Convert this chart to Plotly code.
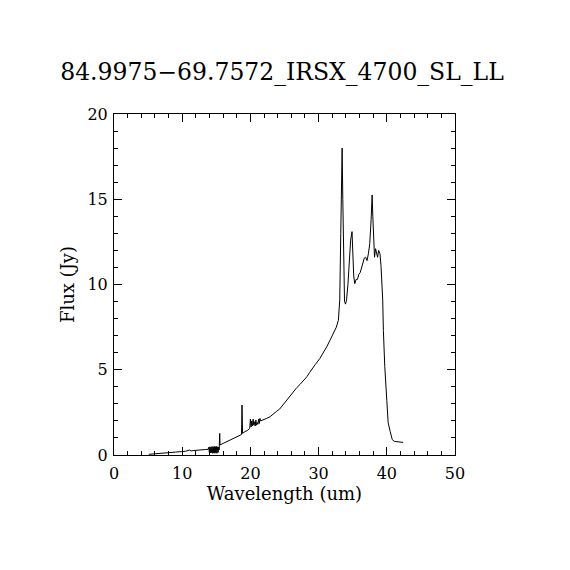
import plotly.graph_objects as go

# Spectrum
wavelength = [
    5.1, 6.0, 7.2, 8.0, 9.0, 9.9, 10.5, 11.1, 11.3, 11.6, 12.0, 12.5, 12.9, 13.4, 13.8,
    13.9, 13.98, 14.06, 14.14, 14.22, 14.3, 14.38, 14.46, 14.54, 14.62, 14.7, 14.78,
    14.86, 14.94, 15.02, 15.1, 15.18, 15.26, 15.34, 15.42,
    15.5, 15.55, 16.0, 16.5, 17.0, 17.5, 18.0, 18.5, 18.7, 18.77, 18.85, 19.2, 19.6, 19.9,
    20.0, 20.1, 20.2, 20.3, 20.4, 20.5, 20.6, 20.7, 20.8, 20.9, 21.0, 21.1, 21.2, 21.3, 21.4, 21.5,
    21.9, 22.4, 22.9, 23.4, 23.8, 24.3, 24.8, 25.3, 25.8, 26.3, 26.8, 27.3, 27.8, 28.3,
    28.7, 29.0, 29.5, 30.2, 30.7, 31.2, 31.7, 32.2, 32.6, 32.9,
    33.1, 33.25, 33.35, 33.45, 33.55, 33.65, 33.8, 33.95, 34.1, 34.3, 34.5, 34.7, 34.9,
    35.0, 35.15, 35.3, 35.5, 35.7, 35.9, 36.1, 36.3, 36.5, 36.7, 36.9, 37.1, 37.3, 37.5,
    37.7, 37.85, 37.95, 38.1, 38.2, 38.35, 38.5, 38.65, 38.8, 39.0, 39.15, 39.3, 39.4,
    39.5, 39.7, 40.0, 40.2, 40.5, 40.8, 41.1, 41.4, 41.9, 42.4,
]
flux = [
    0.04, 0.08, 0.13, 0.15, 0.17, 0.2, 0.22, 0.29, 0.24, 0.26, 0.28, 0.3, 0.33, 0.32, 0.33,
    0.45, 0.15, 0.48, 0.12, 0.47, 0.14, 0.5, 0.1, 0.48, 0.12, 0.5, 0.1, 0.49, 0.12,
    0.5, 0.1, 0.48, 0.15, 0.47, 0.3,
    1.27, 0.59, 0.68, 0.78, 0.88, 0.95, 1.04, 1.17, 1.2, 2.93, 1.27, 1.37, 1.45, 1.56,
    2.1, 1.65, 2.0, 1.7, 2.1, 1.75, 1.95, 1.7, 2.05, 1.75, 1.9, 1.8, 2.1, 1.85, 2.15, 2.0,
    2.05, 2.15, 2.25, 2.45, 2.55, 2.7, 2.95, 3.2, 3.5, 3.72, 3.95, 4.15, 4.35, 4.6,
    4.85, 5.0, 5.3, 5.67, 6.0, 6.35, 6.75, 7.14, 7.5, 7.9,
    9.1, 13.0, 15.0, 18.0, 15.0, 12.0, 9.0, 8.85, 9.1, 10.0, 11.5, 12.6, 13.1,
    12.0, 10.5, 10.05, 10.3, 10.3, 10.6, 10.7, 11.0, 11.4, 11.55, 11.6, 11.4, 11.8, 12.4,
    13.8, 15.25, 14.0, 12.5, 11.6, 12.1, 11.9, 11.6, 12.0, 11.8, 11.1, 10.0, 9.1,
    7.3, 5.2, 3.2, 1.9, 1.37, 0.9, 0.8, 0.78, 0.76, 0.74,
]

FONT = "DejaVu Serif"

fig = go.Figure(go.Scatter(
    x=wavelength, y=flux, mode="lines",
    line=dict(color="black", width=1), showlegend=False,
))

axis_common = dict(
    showline=True, linecolor="black", linewidth=1, mirror="ticks",
    ticks="inside", ticklen=8, tickcolor="black", showgrid=False, zeroline=False,
    tickfont=dict(family=FONT, size=16, color="black"),
    minor=dict(ticks="inside", ticklen=4, tickcolor="black", showgrid=False),
)

# page body adds ~8px offset, so margins are shifted to keep the box at 114..455
fig.update_layout(
    width=570, height=570,
    paper_bgcolor="white", plot_bgcolor="white",
    margin=dict(l=106, r=123, t=106, b=123),
    title=dict(text="84.9975\u221269.7572_IRSX_4700_SL_LL", x=274 / 570, xanchor="center",
               y=1 - 64 / 570, yanchor="middle",
               font=dict(family=FONT, size=23.5, color="black")),
    xaxis=dict(range=[0, 50], dtick=10, minor_dtick=2, ticklabelstandoff=4,
               title=dict(text="Wavelength (um)", standoff=3,
                          font=dict(family=FONT, size=18, color="black")),
               **axis_common),
    yaxis=dict(range=[0, 20], dtick=5, minor_dtick=1, ticklabelstandoff=2,
               title=dict(text="Flux (Jy)", standoff=8,
                          font=dict(family=FONT, size=18, color="black")),
               **axis_common),
)

fig.write_html("out.html")
